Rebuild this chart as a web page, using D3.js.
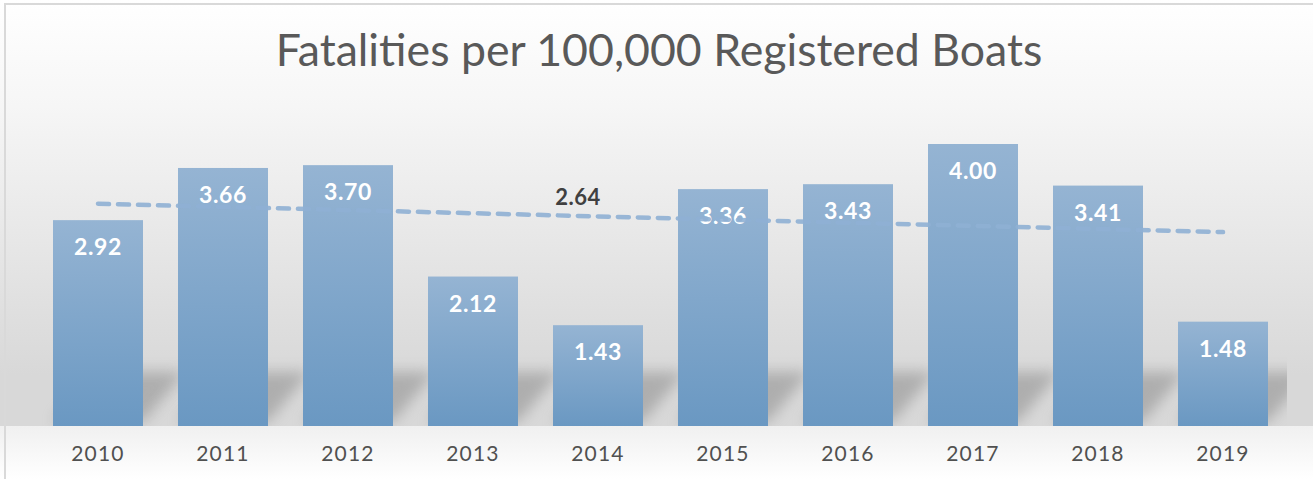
<!DOCTYPE html>
<html>
<head>
<meta charset="utf-8">
<script src="https://cdn.jsdelivr.net/npm/d3@7"></script>
<style>
  html, body { margin: 0; padding: 0; background: #ffffff; }
  svg { display: block; }
</style>
</head>
<body>
<script>
// ---- data ----
const years = ["2010", "2011", "2012", "2013", "2014", "2015", "2016", "2017", "2018", "2019"];
const values = [2.92, 3.66, 3.70, 2.12, 1.43, 3.36, 3.43, 4.00, 3.41, 1.48];
const titleText = "Fatalities per 100,000 Registered Boats";
const extraLabelYear = "2014";
const extraLabelText = "2.64";
const extraLabelValue = 3.25;

// ---- layout ----
const W = 1313, H = 479;
const baseY = 426;
const plotLeft = 35.5, plotRight = 1287;
const FONT = "Lato, 'Open Sans', sans-serif";

const svg = d3.select("body").append("svg").attr("width", W).attr("height", H);
const defs = svg.append("defs");

const bgGrad = defs.append("linearGradient").attr("id", "bgGrad")
  .attr("x1", 0).attr("y1", 0).attr("x2", 0).attr("y2", 1);
bgGrad.append("stop").attr("offset", "0%").attr("stop-color", "#ffffff");
bgGrad.append("stop").attr("offset", "25%").attr("stop-color", "#f6f6f6");
bgGrad.append("stop").attr("offset", "88%").attr("stop-color", "#d8d8d8");
bgGrad.append("stop").attr("offset", "100%").attr("stop-color", "#d8d8d8");

const floorGrad = defs.append("linearGradient").attr("id", "floorGrad")
  .attr("x1", 0).attr("y1", 0).attr("x2", 0).attr("y2", 1);
floorGrad.append("stop").attr("offset", "0%").attr("stop-color", "#f0f0f0");
floorGrad.append("stop").attr("offset", "100%").attr("stop-color", "#ffffff");

const barGrad = defs.append("linearGradient").attr("id", "barGrad")
  .attr("x1", 0).attr("y1", 0).attr("x2", 0).attr("y2", 1);
barGrad.append("stop").attr("offset", "0%").attr("stop-color", "#95b4d3");
barGrad.append("stop").attr("offset", "100%").attr("stop-color", "#6a98c2");

const blur = defs.append("filter").attr("id", "blur")
  .attr("x", "-50%").attr("y", "-50%").attr("width", "200%").attr("height", "200%");
blur.append("feGaussianBlur").attr("stdDeviation", 7);

defs.append("clipPath").attr("id", "plotClip").append("rect")
  .attr("x", plotLeft).attr("y", 0).attr("width", plotRight - plotLeft).attr("height", baseY);

// background
svg.append("rect").attr("x", 0).attr("y", 0).attr("width", W).attr("height", baseY)
  .attr("fill", "url(#bgGrad)");
svg.append("rect").attr("x", 0).attr("y", baseY).attr("width", W).attr("height", H - baseY)
  .attr("fill", "url(#floorGrad)");
svg.append("rect").attr("x", 5).attr("y", 4).attr("width", W + 10).attr("height", H + 10)
  .attr("fill", "none").attr("stroke", "#d9d9d9").attr("stroke-width", 2);

// scales
const x = d3.scaleBand().domain(years).range([plotLeft, 1285.5])
  .paddingInner(0.28).paddingOuter(0.14);
const y = d3.scaleLinear().domain([0, 4.5]).range([baseY, baseY - 4.5 * 70.5]);

// title
const title = svg.append("text")
  .attr("x", 659).attr("y", 66)
  .attr("text-anchor", "middle")
  .attr("font-family", FONT)
  .attr("font-size", 40)
  .attr("fill", "#595959")
  .text(titleText);
const tl = title.node().getComputedTextLength();
title.attr("font-size", 40 * 767 / tl);

// shadows
const data = years.map((yr, i) => ({ year: yr, value: values[i] }));
svg.append("g").attr("clip-path", "url(#plotClip)")
  .selectAll("path").data(data).join("path")
  .attr("d", d => {
    const x0 = x(d.year), x1 = x0 + x.bandwidth();
    const top = Math.max(y(d.value), 372);
    return `M${x0},${baseY - 4}L${x1},${baseY - 4}L${x1 + 42},${top}L${x0 + 42},${top}Z`;
  })
  .attr("fill", "#8c8c8c")
  .attr("opacity", 0.55)
  .attr("filter", "url(#blur)");

// bars
svg.append("g").selectAll("rect").data(data).join("rect")
  .attr("x", d => x(d.year))
  .attr("y", d => y(d.value))
  .attr("width", x.bandwidth())
  .attr("height", d => baseY - y(d.value))
  .attr("fill", "url(#barGrad)");

// value labels
svg.append("g").selectAll("text").data(data).join("text")
  .attr("x", d => x(d.year) + x.bandwidth() / 2)
  .attr("y", d => y(d.value) + 27)
  .attr("dy", "0.36em")
  .attr("text-anchor", "middle")
  .attr("font-family", FONT)
  .attr("font-weight", "bold")
  .attr("font-size", 23)
  .attr("letter-spacing", 0.6)
  .attr("fill", "#ffffff")
  .text(d => d.value.toFixed(2));

// extra label
svg.append("text")
  .attr("x", x(extraLabelYear) + x.bandwidth() / 2 - 20)
  .attr("y", y(extraLabelValue))
  .attr("dy", "0.36em")
  .attr("text-anchor", "middle")
  .attr("font-family", FONT)
  .attr("font-weight", "bold")
  .attr("font-size", 22)
  .attr("letter-spacing", 0.5)
  .attr("fill", "#404040")
  .text(extraLabelText);

// linear trendline (least squares on the series)
const n = values.length;
const mx = d3.mean(values, (v, i) => i), my = d3.mean(values);
const slope = d3.sum(values, (v, i) => (i - mx) * (v - my)) / d3.sum(values, (v, i) => (i - mx) * (i - mx));
const icpt = my - slope * mx;
const trend = [0, n - 1].map(i => [x(years[i]) + x.bandwidth() / 2, y(icpt + slope * i)]);
svg.append("path")
  .attr("d", d3.line()(trend))
  .attr("fill", "none")
  .attr("stroke", "#8fb0d4")
  .attr("stroke-opacity", 0.9)
  .attr("stroke-width", 4.5)
  .attr("stroke-linecap", "round")
  .attr("stroke-dasharray", "11 9");

// x axis labels
const xAxis = d3.axisBottom(x).tickSize(0).tickPadding(0);
const gx = svg.append("g").attr("transform", `translate(0,${baseY})`).call(xAxis);
gx.select(".domain").remove();
gx.selectAll("text")
  .attr("y", 27)
  .attr("dy", "0.36em")
  .attr("font-family", FONT)
  .attr("font-size", 21)
  .attr("letter-spacing", 1.2)
  .attr("fill", "#505050");
</script>
</body>
</html>
